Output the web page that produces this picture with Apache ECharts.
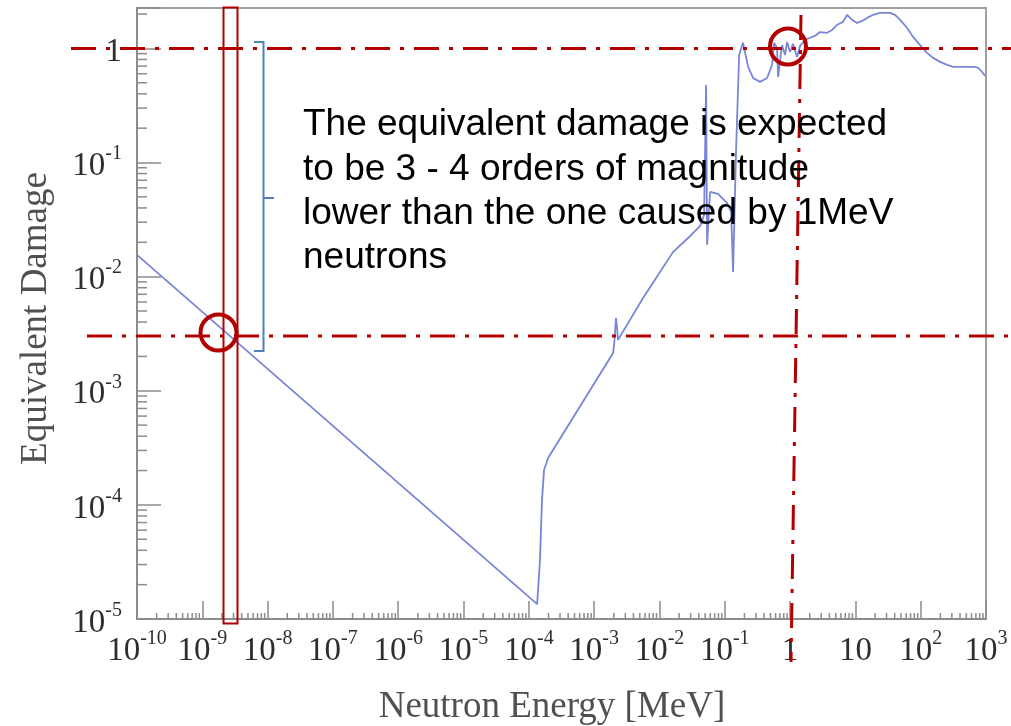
<!DOCTYPE html>
<html>
<head>
<meta charset="utf-8">
<script src="https://cdn.jsdelivr.net/npm/echarts@6/dist/echarts.min.js"></script>
<style>
  html, body { margin: 0; padding: 0; background: #fff; }
  #chart { width: 1011px; height: 726px; }
</style>
</head>
<body>
<div id="chart"></div>
<script>
// Neutron energy [MeV] and the corresponding equivalent damage (1 MeV neutron = 1)
const energyMeV = [
  1e-10, 1.34e-4, 1.48e-4, 1.59e-4, 1.71e-4, 1.97e-4,
  1.95e-3, 2.02e-3, 2.16e-3, 2.24e-3, 2.32e-3, 5.61e-3,
  1.61e-2, 2.74e-2, 4.19e-2, 4.82e-2, 5.18e-2, 5.36e-2,
  5.96e-2, 7.88e-2, 0.108, 0.125, 0.134, 0.149,
  0.166, 0.190, 0.228, 0.271, 0.347, 0.445,
  0.530, 0.569, 0.632, 0.655, 0.753, 0.838,
  0.899, 1.00, 1.11, 1.28, 1.42, 1.70,
  2.02, 2.42, 2.88, 3.69, 4.40, 5.25,
  6.48, 7.47, 8.90, 10.6, 12.7, 15.1,
  18.7, 23.9, 34.0, 40.5, 48.4, 62.0,
  76.5, 98.0, 125, 155, 198, 254,
  313, 446, 681, 757, 872, 968
];
const damage = [
  1.55e-2, 1.35e-5, 3.29e-5, 1.10e-4, 2.02e-4, 2.58e-4,
  2.14e-3, 2.52e-3, 4.35e-3, 3.55e-3, 2.79e-3, 6.50e-3,
  1.64e-2, 2.18e-2, 2.78e-2, 3.47e-2, 0.479, 1.90e-2,
  5.52e-2, 5.31e-2, 4.43e-2, 3.69e-2, 1.10e-2, 0.129,
  0.877, 1.12, 0.689, 0.551, 0.509, 0.551,
  0.717, 1.12, 1.01, 0.563, 1.07, 0.877,
  1.14, 0.932, 1.10, 0.842, 1.05, 1.19,
  1.24, 1.29, 1.39, 1.37, 1.45, 1.61,
  1.71, 1.97, 1.78, 1.67, 1.74, 1.85,
  1.97, 2.05, 2.05, 1.97, 1.78, 1.51,
  1.26, 1.07, 0.913, 0.826, 0.762, 0.717,
  0.689, 0.689, 0.689, 0.675, 0.622, 0.574
];

// Axis ranges and log-axis minor tick multipliers
const energyRange = [1e-10, 1e3];
const damageRange = [1e-5, 2.26];
const minorSteps = [2, 3, 4, 5, 6, 7, 8, 9];

// Annotation text
const noteLines = [
  'The equivalent damage is expected',
  'to be 3 - 4 orders of magnitude',
  'lower than the one caused by 1MeV',
  'neutrons'
];

const SERIF = '"Liberation Serif", "Times New Roman", serif';
const SANS = '"Liberation Sans", Arial, sans-serif';
const AXIS_GREY = '#8c8c8c';
const GUIDE_RED = '#b20000';
const BRACKET_BLUE = '#4f81bd';

function minorTicks(lo, hi) {
  const out = [];
  const d0 = Math.floor(Math.log10(lo));
  const d1 = Math.ceil(Math.log10(hi));
  for (let d = d0; d < d1; d++) {
    for (const m of minorSteps) {
      const v = m * Math.pow(10, d);
      if (v > lo && v < hi) out.push(v);
    }
  }
  return out;
}

function powLabel(v) {
  const lg = Math.log10(v);
  const e = Math.round(lg);
  if (Math.abs(lg - e) > 1e-6) return '';
  if (e === 0) return '{b|1}';
  if (e === 1) return '{b|10}';
  return '{b|10}{e|' + e + '}';
}

const labelRich = {
  b: { fontFamily: SERIF, fontSize: 33, color: '#2e2e2e', lineHeight: 45 },
  e: { fontFamily: SERIF, fontSize: 20, color: '#2e2e2e', lineHeight: 20, verticalAlign: 'top' }
};

const xMinor = minorTicks(energyRange[0], energyRange[1]).map(v => [v, damageRange[0]]);
const yMinor = minorTicks(damageRange[0], damageRange[1]).map(v => [energyRange[0], v]);

const chart = echarts.init(document.getElementById('chart'), null, { renderer: 'canvas' });

const option = {
  backgroundColor: '#fff',
  animation: false,
  grid: {
    left: 137, right: 25, top: 8, bottom: 107,
    show: true, borderColor: '#a0a0a0', borderWidth: 2,
    outerBoundsMode: 'none'
  },
  xAxis: {
    type: 'log', logBase: 10,
    min: energyRange[0], max: energyRange[1], interval: 1,
    name: 'Neutron Energy [MeV]',
    nameLocation: 'middle', nameGap: 70,
    nameTextStyle: { fontFamily: SERIF, fontSize: 37, color: '#505050', padding: [0, 19, 0, 0] },
    axisLine: { show: true, lineStyle: { color: AXIS_GREY, width: 2 } },
    axisTick: { show: true, inside: true, length: 18, lineStyle: { color: AXIS_GREY, width: 1.5 } },
    axisLabel: { margin: 10, formatter: powLabel, rich: labelRich, showMinLabel: true, showMaxLabel: true, hideOverlap: false },
    splitLine: { show: false }
  },
  yAxis: {
    type: 'log', logBase: 10,
    min: damageRange[0], max: damageRange[1], interval: 1,
    name: 'Equivalent Damage',
    nameLocation: 'middle', nameGap: 82,
    nameTextStyle: { fontFamily: SERIF, fontSize: 37, color: '#505050', padding: [0, 10, 0, 0] },
    axisLine: { show: true, lineStyle: { color: AXIS_GREY, width: 2 } },
    axisTick: { show: true, inside: true, length: 24, lineStyle: { color: AXIS_GREY, width: 1.5 } },
    axisLabel: { margin: 15, padding: [8, 0, 0, 0], formatter: powLabel, rich: labelRich, showMinLabel: true, hideOverlap: false },
    splitLine: { show: false }
  },
  series: [
    {
      type: 'custom',
      silent: true,
      clip: false,
      data: xMinor,
      renderItem: function (params, api) {
        const p = api.coord([api.value(0), api.value(1)]);
        return {
          type: 'line',
          shape: { x1: p[0], y1: p[1], x2: p[0], y2: p[1] - 6 },
          style: { stroke: AXIS_GREY, lineWidth: 1.5 }
        };
      }
    },
    {
      type: 'custom',
      silent: true,
      clip: false,
      data: yMinor,
      renderItem: function (params, api) {
        const p = api.coord([api.value(0), api.value(1)]);
        return {
          type: 'line',
          shape: { x1: p[0], y1: p[1], x2: p[0] + 10, y2: p[1] },
          style: { stroke: AXIS_GREY, lineWidth: 1.5 }
        };
      }
    },
    {
      type: 'line',
      data: energyMeV.map((e, i) => [e, damage[i]]),
      showSymbol: false,
      smooth: false,
      lineStyle: { color: '#7b85d8', width: 1.8 },
      z: 3
    }
  ],
  graphic: [
    // dash-dot guide lines
    { type: 'line', z: 100, shape: { x1: 71, y1: 48.5, x2: 1011, y2: 48.5 },
      style: { stroke: GUIDE_RED, lineWidth: 3, lineDash: [25, 10, 4, 10] } },
    { type: 'line', z: 100, shape: { x1: 87, y1: 336, x2: 1011, y2: 336 },
      style: { stroke: GUIDE_RED, lineWidth: 3, lineDash: [25, 10, 4, 10] } },
    { type: 'line', z: 100, shape: { x1: 801, y1: 15, x2: 791, y2: 662 },
      style: { stroke: GUIDE_RED, lineWidth: 3, lineDash: [25, 10, 4, 10] } },
    // highlight circles
    { type: 'circle', z: 101, shape: { cx: 218.5, cy: 332.5, r: 18 },
      style: { fill: 'none', stroke: GUIDE_RED, lineWidth: 4 } },
    { type: 'circle', z: 101, shape: { cx: 788, cy: 46.5, r: 18 },
      style: { fill: 'none', stroke: GUIDE_RED, lineWidth: 4 } },
    // thermal energy band
    { type: 'rect', z: 101, shape: { x: 223.5, y: 7.5, width: 14, height: 616 },
      style: { fill: 'none', stroke: GUIDE_RED, lineWidth: 2 } },
    // bracket spanning the two levels
    { type: 'polyline', z: 101, shape: { points: [[254, 42], [263.5, 42], [263.5, 351], [254, 351]] },
      style: { fill: null, stroke: BRACKET_BLUE, lineWidth: 2 } },
    { type: 'line', z: 101, shape: { x1: 263.5, y1: 198, x2: 274, y2: 198 },
      style: { stroke: BRACKET_BLUE, lineWidth: 2 } }
  ].concat(noteLines.map((t, i) => ({
    type: 'text', z: 102,
    x: 303, y: 125 + i * 44.3,
    style: { text: t, fill: '#000', fontFamily: SANS, fontSize: 37, align: 'left', verticalAlign: 'middle' }
  })))
};

chart.setOption(option);
</script>
</body>
</html>
